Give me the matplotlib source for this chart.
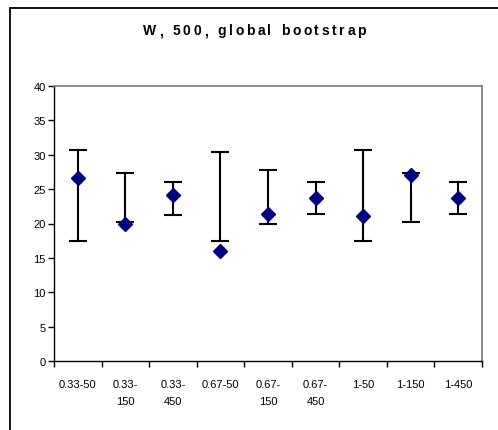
import matplotlib
matplotlib.use("Agg")
import matplotlib.pyplot as plt
from matplotlib.patches import Rectangle
import numpy as np

categories = ["0.33-50", "0.33-\n150", "0.33-\n450", "0.67-50", "0.67-\n150",
              "0.67-\n450", "1-50", "1-150", "1-450"]
estimate = [26.6, 19.9, 24.2, 16.0, 21.4, 23.7, 21.1, 27.0, 23.7]
lower = [17.5, 20.2, 21.3, 17.5, 19.9, 21.4, 17.5, 20.2, 21.4]
upper = [30.7, 27.4, 26.0, 30.4, 27.8, 26.0, 30.7, 27.4, 26.0]
yticks = [0, 5, 10, 15, 20, 25, 30, 35, 40]
title = "W, 500, global bootstrap"

plt.rcParams["font.family"] = ["Liberation Sans", "DejaVu Sans"]

W, H = 498, 431
fig = plt.figure(figsize=(W / 100, H / 100), dpi=100)

# chart-area frame (only left and top edges fall inside the canvas)
fig.patches.append(Rectangle((9.5 / W, -0.1), 1.2, (H - 9.0) / H + 0.1,
                             transform=fig.transFigure, fill=False,
                             edgecolor="#000000", linewidth=1.3, zorder=0))

ax = fig.add_axes([54 / W, (H - 362) / H, 428 / W, 275 / H])

x = np.arange(len(categories))
est = np.array(estimate)
lo = np.array(lower)
hi = np.array(upper)

ax.vlines(x, lo, hi, color="black", linewidth=1.5, zorder=2)
ax.hlines(lo, x - 0.19, x + 0.19, color="black", linewidth=1.5, zorder=2)
ax.hlines(hi, x - 0.19, x + 0.19, color="black", linewidth=1.5, zorder=2)
ax.plot(x, est, linestyle="none", marker="D", markersize=7.5,
        color="#000080", markeredgecolor="#000080", zorder=3)

ax.set_xlim(-0.5, len(categories) - 0.5)
ax.set_ylim(0, 40)
ax.set_yticks(yticks)
ax.set_yticklabels([str(v) for v in yticks], fontsize=8)

ax.set_xticks(np.arange(len(categories) + 1) - 0.5)
ax.set_xticklabels([])
ax.set_xticks(x, minor=True)
ax.set_xticklabels(categories, minor=True, fontsize=8, va="top",
                   linespacing=1.85)
ax.tick_params(axis="x", which="minor", length=0, pad=13)
ax.tick_params(axis="x", which="major", direction="out", length=4,
               width=1, color="black")
ax.tick_params(axis="y", direction="out", length=4, width=1,
               color="black", pad=2)

for side in ("left", "bottom"):
    ax.spines[side].set_color("black")
    ax.spines[side].set_linewidth(1)
for side in ("top", "right"):
    ax.spines[side].set_color("#808080")
    ax.spines[side].set_linewidth(1.3)

# letter-spaced bold title, laid out one glyph at a time
renderer = fig.canvas.get_renderer()
tracking = 2.6  # extra pixels between glyphs
glyphs = []
widths = []
for ch in title:
    t = fig.text(0, 0, ch if ch != " " else "n", fontsize=10,
                 fontweight="bold", ha="left", va="baseline")
    w = t.get_window_extent(renderer).width
    if ch == " ":
        t.remove()
        w *= 0.55
        t = None
    glyphs.append(t)
    widths.append(w)
total = sum(widths) + tracking * (len(title) - 1)
xpos = 254.5 - total / 2
ybase = 1 - 35 / H
for t, w in zip(glyphs, widths):
    if t is not None:
        t.set_position((xpos / W, ybase))
    xpos += w + tracking

fig.savefig("out.png", dpi=100)
